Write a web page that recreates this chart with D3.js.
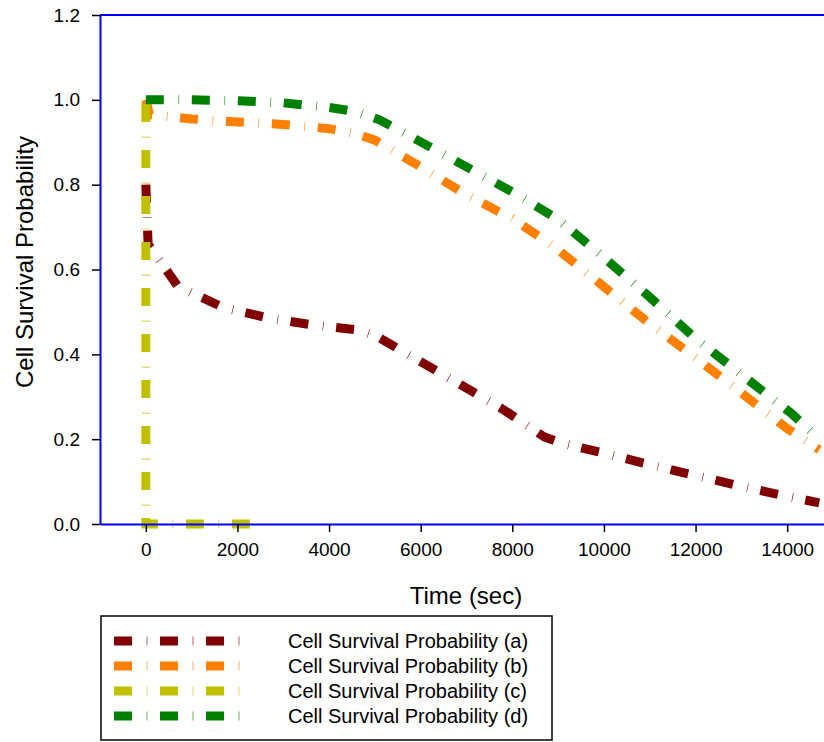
<!DOCTYPE html>
<html>
<head>
<meta charset="utf-8">
<script src="https://cdn.jsdelivr.net/npm/d3@7"></script>
<style>
  body { margin: 0; background: #fff; }
  text { font-family: "Liberation Sans", Arial, sans-serif; fill: #000; }
</style>
</head>
<body>
<div id="chart"></div>
<script>
var svgWidth = 824;
var svgHeight = 742;

// data (time in sec, survival probability)
var seriesNames = ["Cell Survival Probability (a)", "Cell Survival Probability (b)",
  "Cell Survival Probability (c)", "Cell Survival Probability (d)"];
var seriesColors = ["#800000", "#ff8000", "#c0c000", "#008000"];

var timeA = [0, 50, 700, 1700, 2700, 3600, 4600, 5000, 5800, 6800, 7800, 8700, 9100, 10000, 11000, 12000, 13000, 14000, 14700];
var probA = [0.8, 0.66, 0.56, 0.51, 0.485, 0.47, 0.458, 0.445, 0.395, 0.333, 0.27, 0.205, 0.19, 0.167, 0.14, 0.114, 0.089, 0.065, 0.05];

var timeB = [0, 80, 1000, 2000, 3000, 4000, 4600, 5000, 6000, 7000, 8000, 8900, 9900, 10900, 11900, 13000, 14000, 14700];
var probB = [1.0, 0.965, 0.955, 0.948, 0.942, 0.932, 0.92, 0.905, 0.842, 0.776, 0.72, 0.655, 0.568, 0.481, 0.40, 0.309, 0.225, 0.175];

var timeC = [0, 0, 2500];
var probC = [0.99, 0.0, 0.0];

var timeD = [0, 1000, 2000, 3000, 4000, 4600, 5100, 6100, 7100, 8100, 9000, 10000, 11000, 12000, 13100, 14100, 14700];
var probD = [1.0, 1.0, 0.998, 0.993, 0.982, 0.972, 0.953, 0.895, 0.836, 0.777, 0.718, 0.628, 0.535, 0.437, 0.344, 0.26, 0.2];

var xTicks = [0, 2000, 4000, 6000, 8000, 10000, 12000, 14000];
var yTicks = [0.0, 0.2, 0.4, 0.6, 0.8, 1.0, 1.2];

var times = [timeA, timeB, timeC, timeD];
var probs = [probA, probB, probC, probD];

var svg = d3.select("#chart")
  .append("svg")
  .attr("width", svgWidth)
  .attr("height", svgHeight);

var x = d3.scaleLinear().domain([-1000, 15000]).range([100, 833]);
var y = d3.scaleLinear().domain([0, 1.2]).range([524, 15]);

var dash = "18,14.7,0.6,12.7";

// lines
var line = d3.line()
  .x(function (d) { return x(d[0]); })
  .y(function (d) { return y(d[1]); });

for (var i = 0; i < 4; i++) {
  var pts = times[i].map(function (t, j) { return [t, probs[i][j]]; });
  svg.append("path")
    .datum(pts)
    .attr("d", line)
    .attr("fill", "none")
    .attr("stroke", seriesColors[i])
    .attr("stroke-width", 9)
    .attr("stroke-dasharray", dash);
}

// axes
var bottomAxis = d3.axisBottom(x).tickValues(xTicks).tickSize(8).tickSizeOuter(0)
  .tickFormat(d3.format("d"));
var leftAxis = d3.axisLeft(y).tickValues(yTicks).tickSize(8).tickSizeOuter(0)
  .tickFormat(d3.format(".1f"));

var xAxis = svg.append("g")
  .attr("transform", "translate(0," + 524 + ")")
  .call(bottomAxis);
var yAxis = svg.append("g")
  .attr("transform", "translate(" + 100 + ",0)")
  .call(leftAxis);

[xAxis, yAxis].forEach(function (ax) {
  ax.attr("font-size", null).attr("font-family", null);
  ax.select(".domain").attr("stroke", "#0000ff").attr("stroke-width", 2);
  ax.selectAll(".tick line").attr("stroke", "#000").attr("stroke-width", 1.5);
  ax.selectAll(".tick text")
    .style("font-family", "Liberation Sans, Arial, sans-serif")
    .style("font-size", "19px")
    .attr("fill", "#000");
});
xAxis.selectAll(".tick text").attr("y", 19);
yAxis.selectAll(".tick text").attr("x", -20);

// top border
svg.append("line")
  .attr("x1", 100).attr("x2", 833)
  .attr("y1", y(1.2)).attr("y2", y(1.2))
  .attr("stroke", "#0000ff").attr("stroke-width", 2);

// axis titles
svg.append("text")
  .attr("x", 466).attr("y", 604)
  .attr("text-anchor", "middle")
  .style("font-size", "24px")
  .text("Time (sec)");

svg.append("text")
  .attr("transform", "translate(33," + 262 + ") rotate(-90)")
  .attr("text-anchor", "middle")
  .style("font-size", "24px")
  .text("Cell Survival Probability");

// legend
var legend = svg.append("g");
legend.append("rect")
  .attr("x", 101).attr("y", 616)
  .attr("width", 451).attr("height", 124)
  .attr("fill", "none")
  .attr("stroke", "#000")
  .attr("stroke-width", 1.5);

seriesNames.forEach(function (name, i) {
  var yy = 641 + i * 25;
  legend.append("line")
    .attr("x1", 114).attr("x2", 242)
    .attr("y1", yy).attr("y2", yy)
    .attr("stroke", seriesColors[i])
    .attr("stroke-width", 9)
    .attr("stroke-dasharray", dash);
  legend.append("text")
    .attr("x", 288).attr("y", yy + 7)
    .style("font-size", "20px")
    .text(name);
});
</script>
</body>
</html>
